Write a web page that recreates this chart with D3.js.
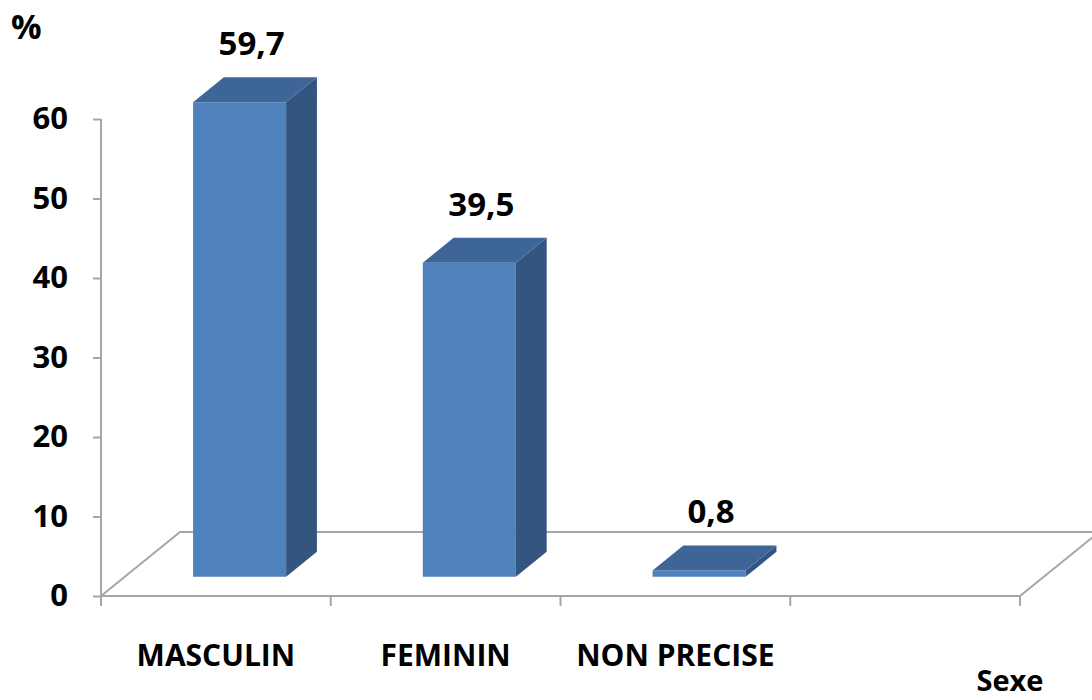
<!DOCTYPE html>
<html>
<head>
<meta charset="utf-8">
<script src="https://cdn.jsdelivr.net/npm/d3@7/dist/d3.min.js"></script>
<style>
  html, body { margin: 0; padding: 0; background: #fff; }
  svg { display: block; font-family: "Open Sans", "Lato", sans-serif; font-weight: bold; }
</style>
</head>
<body>
<svg id="chart" width="1092" height="700"></svg>
<script>
// ---- data ----
const categories = ["MASCULIN", "FEMININ", "NON PRECISE", ""];
const values = [59.7, 39.5, 0.8, null];
const valueLabels = ["59,7", "39,5", "0,8", ""];
const yTicks = [0, 10, 20, 30, 40, 50, 60];
const yTitle = "%";
const xTitle = "Sexe";

// ---- layout ----
const W = 1092, H = 700;
const svg = d3.select("#chart");
const axisColor = "#a6a6a6";
const colFront = "#4f81bd", colTop = "#3e6597", colSide = "#34557f";

const x = d3.scaleBand().domain(categories).range([101, 1020]).paddingInner(0).paddingOuter(0);
const y = d3.scaleLinear().domain([0, 60]).range([596, 119]);

// depth of the 3D floor
const depthX = 79, depthY = -64;
const barDepth0 = 0.3, barDepth1 = 0.69;
const barWidthRatio = 0.405;

// ---- floor ----
const x0 = x.range()[0], x1 = x.range()[1], y0 = y(0);
const floor = svg.append("g").attr("stroke", axisColor).attr("stroke-width", 2).attr("fill", "none");
floor.append("path").attr("d", `M${x0},${y0} L${x0 + depthX},${y0 + depthY} L${x1 + depthX},${y0 + depthY} M${x1},${y0} L${x1 + depthX},${y0 + depthY}`);

// ---- y axis ----
const yAxis = d3.axisLeft(y).tickValues(yTicks).tickSize(8).tickPadding(25).tickFormat(d3.format("d"));
const gy = svg.append("g").attr("transform", `translate(${x0},0)`).call(yAxis);
gy.select(".domain").remove();
gy.append("line").attr("x1", 0).attr("x2", 0).attr("y1", y(60)).attr("y2", y0 + 10)
  .attr("stroke", axisColor).attr("stroke-width", 2);
gy.selectAll(".tick line").attr("stroke", axisColor).attr("stroke-width", 2);
gy.selectAll(".tick text").attr("fill", "#000").style("font-size", "31px")
  .style("font-family", '"Open Sans", sans-serif').style("font-weight", "bold");

// ---- x axis ----
const xAxis = d3.axisBottom(x).tickSize(0).tickPadding(70);
const gx = svg.append("g").attr("transform", `translate(0,${y0})`).call(xAxis);
gx.select(".domain").remove();
gx.selectAll(".tick text").attr("fill", "#000").style("font-size", "30px")
  .style("font-family", '"Open Sans", sans-serif').style("font-weight", "bold")
  .attr("dy", "0");
gx.append("line").attr("x1", x0).attr("x2", x1).attr("y1", 0).attr("y2", 0)
  .attr("stroke", axisColor).attr("stroke-width", 2);
const bounds = categories.map(c => x(c)).concat([x1]);
gx.selectAll(".xtick").data(bounds).enter().append("line")
  .attr("x1", d => d).attr("x2", d => d).attr("y1", 0).attr("y2", 10)
  .attr("stroke", axisColor).attr("stroke-width", 2);

// ---- bars ----
const data = categories.map((c, i) => ({ c, v: values[i], label: valueLabels[i] })).filter(d => d.v != null);
const bw = x.bandwidth() * barWidthRatio;
const fdx = depthX * barDepth0, fdy = depthY * barDepth0;
const sdx = depthX * (barDepth1 - barDepth0), sdy = depthY * (barDepth1 - barDepth0);

const bars = svg.append("g");
data.forEach(d => {
  const cx = x(d.c) + x.bandwidth() / 2 + fdx;
  const L = cx - bw / 2, R = cx + bw / 2;
  const B = y(0) + fdy, T = y(d.v) + fdy;
  const g = bars.append("g");
  g.append("path").attr("fill", colFront)
    .attr("d", `M${L},${B} L${R},${B} L${R},${T} L${L},${T} Z`);
  g.append("path").attr("fill", colSide)
    .attr("d", `M${R},${B} L${R + sdx},${B + sdy} L${R + sdx},${T + sdy} L${R},${T} Z`);
  g.append("path").attr("fill", colTop)
    .attr("d", `M${L},${T} L${R},${T} L${R + sdx},${T + sdy} L${L + sdx},${T + sdy} Z`);
  svg.append("text").attr("x", cx + 12).attr("y", T - 47)
    .attr("text-anchor", "middle").style("font-size", "33px").attr("fill", "#000")
    .text(d.label);
});

// ---- titles ----
svg.append("text").attr("x", 11).attr("y", 39).style("font-size", "34px").attr("fill", "#000").text(yTitle);
svg.append("text").attr("x", 1010).attr("y", 691).attr("text-anchor", "middle").style("font-size", "29px").attr("fill", "#000").text(xTitle);
</script>
</body>
</html>
